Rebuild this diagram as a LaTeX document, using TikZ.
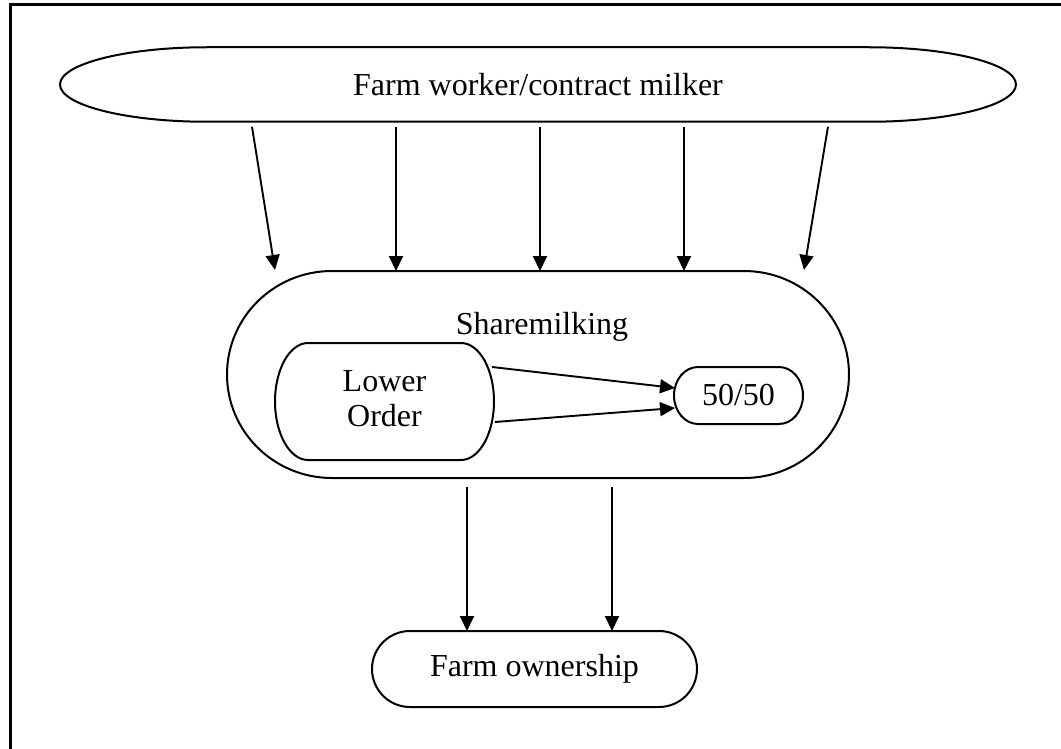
\documentclass[tikz,border=0pt]{standalone}
\usepackage{fontspec}
\setmainfont{Liberation Serif}
\usetikzlibrary{arrows.meta,calc}
\tikzset{
  box/.style={draw=none,inner sep=0pt,outer sep=0pt,font=\fontsize{32}{35}\selectfont,align=center},
  outline/.style={line width=2pt},
  conn/.style={line width=1.9pt,-{Triangle[length=15pt,width=14pt]}},
  frameline/.style={line width=3pt}
}
\newcommand\pillpath[3]{%
  \draw[outline] ([xshift=#2]#1.north west) -- ([xshift=-#2]#1.north east)
    arc[start angle=90,end angle=-90,x radius=#2,y radius=#3]
    -- ([xshift=#2]#1.south west)
    arc[start angle=270,end angle=90,x radius=#2,y radius=#3] -- cycle;}
\begin{document}
\begin{tikzpicture}[x=1pt,y=-1pt]
\useasboundingbox (0,0) rectangle (1061,749);
\draw[frameline] (10,749) -- (10,5) -- (1061,5);

\node[box,minimum width=956pt,minimum height=74.5pt] (fw) at (538,84.5) {Farm worker/contract milker};
\pillpath{fw}{147pt}{37.25pt}

\node[box,minimum width=622pt,minimum height=207pt] (sm) at (538,374.5) {};
\pillpath{sm}{105pt}{103.5pt}
\node[box] (smlab) at (542,327) {Sharemilking};

\node[box,minimum width=219pt,minimum height=117pt] (lo) at (384.5,401.5)
  {\raisebox{-3.5pt}{\begin{tabular}{@{}c@{}}Lower\\Order\end{tabular}}};
\pillpath{lo}{33pt}{58.5pt}

\node[box,minimum width=129pt,minimum height=57pt] (ff) at (738.5,395.5) {\raisebox{-4.5pt}{50/50}};
\pillpath{ff}{24pt}{28.5pt}

\node[box,minimum width=325pt,minimum height=76pt] (fo) at (534.5,669) {Farm ownership};
\pillpath{fo}{38pt}{38pt}

% farm worker -> sharemilking
\draw[conn] ([xshift=-286pt,yshift=-5pt]fw.south) -- ([xshift=-263pt,yshift=1pt]sm.north);
\draw[conn] ([xshift=-142pt,yshift=-5pt]fw.south) -- ([xshift=-142pt]sm.north);
\draw[conn] ([xshift=2pt,yshift=-5pt]fw.south) -- ([xshift=2pt]sm.north);
\draw[conn] ([xshift=146pt,yshift=-5pt]fw.south) -- ([xshift=146pt]sm.north);
\draw[conn] ([xshift=290pt,yshift=-5pt]fw.south) -- ([xshift=266pt,yshift=1pt]sm.north);

% lower order -> 50/50
\draw[conn] ([xshift=-2pt,yshift=34.5pt]lo.east) -- ([xshift=1pt,yshift=7.5pt]ff.west);
\draw[conn] ([xshift=1pt,yshift=-20.5pt]lo.east) -- ([xshift=1pt,yshift=-12.5pt]ff.west);

% sharemilking -> farm ownership
\draw[conn] ([xshift=-71pt,yshift=-9pt]sm.south) -- ([xshift=-67.5pt]fo.north);
\draw[conn] ([xshift=74pt,yshift=-9pt]sm.south) -- ([xshift=77.5pt]fo.north);
\end{tikzpicture}
\end{document}
